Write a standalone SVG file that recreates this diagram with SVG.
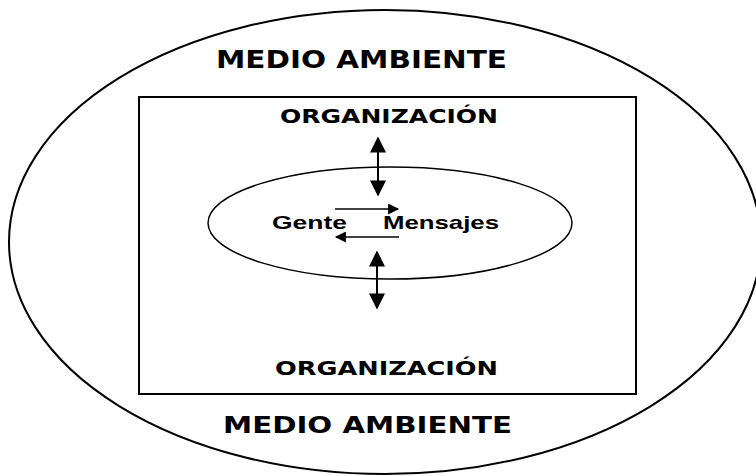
<svg xmlns="http://www.w3.org/2000/svg" width="756" height="476" viewBox="0 0 756 476">
<defs>
<style>
.ln{fill:none;stroke:#000;stroke-width:2}
.lbl{font-family:"DejaVu Sans",Verdana,sans-serif;font-weight:bold;fill:#000}
.in{font-family:"Liberation Sans",Arial,sans-serif;font-weight:bold;fill:#000;font-size:19px}
</style>
<marker id="bigv" viewBox="0 0 10 10" refX="9" refY="5" markerWidth="18" markerHeight="16" markerUnits="userSpaceOnUse" orient="auto-start-reverse">
<path d="M0,0 L10,5 L0,10 Z" fill="#000"/>
</marker>
<marker id="sm" viewBox="0 0 10 10" refX="9" refY="5" markerWidth="15" markerHeight="11" markerUnits="userSpaceOnUse" orient="auto">
<path d="M0,0 L10,5 L0,10 Z" fill="#000"/>
</marker>
</defs>
<rect width="756" height="476" fill="#fff"/>
<g id="medio-ambiente">
<ellipse class="ln" cx="385" cy="242" rx="376" ry="232"/>
<text class="lbl" x="216" y="68" font-size="24" textLength="291" lengthAdjust="spacingAndGlyphs">MEDIO AMBIENTE</text>
<text class="lbl" x="223" y="433" font-size="23" textLength="289" lengthAdjust="spacingAndGlyphs">MEDIO AMBIENTE</text>
</g>
<g id="organizacion">
<rect class="ln" x="139" y="97" width="497" height="297"/>
<text class="lbl" x="280" y="123" font-size="20" textLength="218" lengthAdjust="spacingAndGlyphs">ORGANIZACIÓN</text>
<text class="lbl" x="275" y="375" font-size="20" textLength="223" lengthAdjust="spacingAndGlyphs">ORGANIZACIÓN</text>
</g>
<g id="comunicacion">
<ellipse fill="none" stroke="#000" stroke-width="1.5" cx="390" cy="223" rx="182" ry="56"/>
<text class="in" x="272" y="229" textLength="75" lengthAdjust="spacingAndGlyphs">Gente</text>
<text class="in" x="383" y="229" textLength="116" lengthAdjust="spacingAndGlyphs">Mensajes</text>
</g>
<g id="connectors">
<line x1="378" y1="138" x2="378" y2="195" stroke="#000" stroke-width="2" marker-start="url(#bigv)" marker-end="url(#bigv)"/>
<line x1="377" y1="252" x2="377" y2="308" stroke="#000" stroke-width="2" marker-start="url(#bigv)" marker-end="url(#bigv)"/>
<line x1="335" y1="209" x2="398" y2="209" stroke="#000" stroke-width="1.5" marker-end="url(#sm)"/>
<line x1="399" y1="237" x2="336" y2="237" stroke="#000" stroke-width="1.5" marker-end="url(#sm)"/>
</g>
</svg>
